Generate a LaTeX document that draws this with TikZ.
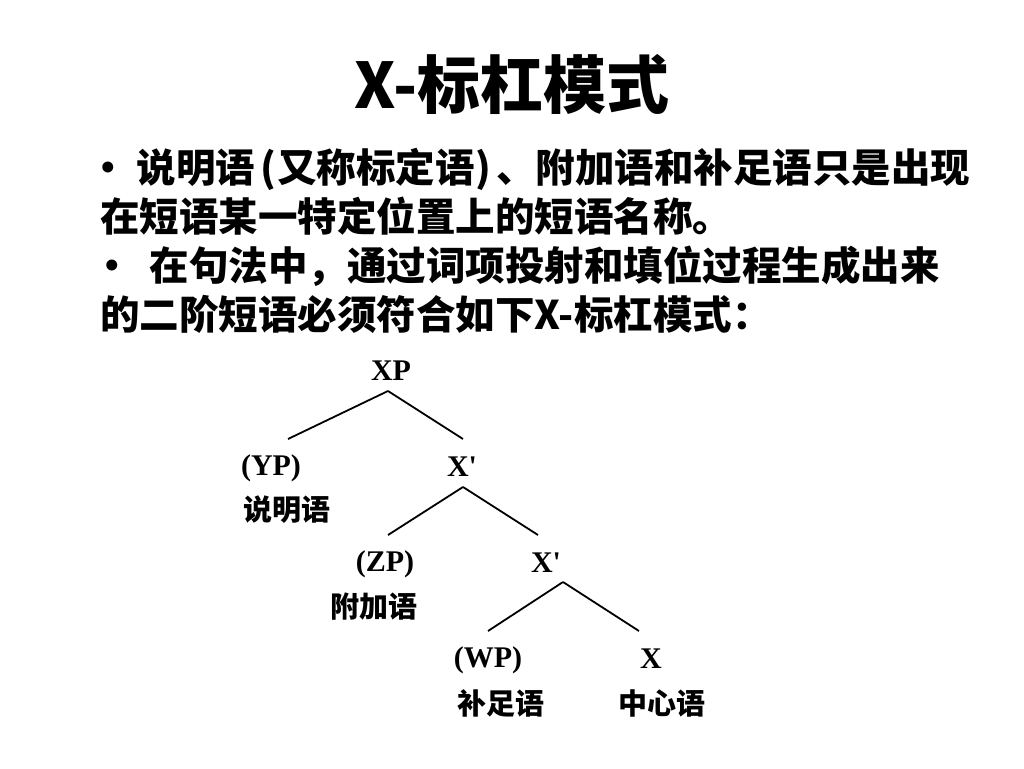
\documentclass[tikz,border=0pt]{standalone}
\usepackage{fontspec}
\newfontfamily\cjk{Noto Sans CJK SC}
\newfontfamily\tms{Liberation Serif}
\usetikzlibrary{positioning,calc}

\begin{document}
\begin{tikzpicture}[
  x=1pt, y=-1pt,
  title/.style={font=\cjk\bfseries\fontsize{63}{66}\selectfont},
  txt/.style={font=\cjk\bfseries\fontsize{39.5}{44}\selectfont, anchor=base west, inner sep=0pt},
  cat/.style={font=\tms\bfseries\fontsize{30}{30}\selectfont, inner sep=0pt},
  role/.style={font=\cjk\bfseries\fontsize{29}{30}\selectfont, inner sep=0pt},
  edge/.style={line width=1.8pt}
]
\useasboundingbox (0,0) rectangle (1024,768);

% Title
\node[title] (title) at (512,84) {X-标杠模式};

% Bullet text
\node[txt] (line1) at (88,182) {·\ 说明语\kern5pt(\kern1pt又称标定语\kern1pt)\kern5pt、附加语和补足语只是出现};
\node[txt] (line2) at (100,231) {在短语某一特定位置上的短语名称。};
\node[txt] (line3) at (92,280) {•\ \ 在句法中，通过词项投射和填位过程生成出来};
\node[txt] (line4) at (100,329) {的二阶短语必须符合如下X-标杠模式：};

% Tree categories
\node[cat] (xp) at (391,371) {XP};
\node[cat] (yp) at (271,468) {(YP)};
\node[cat] (xbar1) at (462,467) {X'};
\node[cat] (zp) at (385,564) {(ZP)};
\node[cat] (xbar2) at (546,563) {X'};
\node[cat] (wp) at (488,660) {(WP)};
\node[cat] (x) at (651,659) {X};

% Role labels
\node[role, anchor=west] (spec) at (243,510) {说明语};
\node[role, anchor=west] (adj) at (330,607) {附加语};
\node[role, anchor=west] (comp) at (457,703) {补足语};
\node[role, anchor=west] (head) at (618,703) {中心语};

% Branches
\draw[edge] ([shift={(-3,20)}]xp.center) -- ([shift={(17,-29)}]yp.center);
\draw[edge] ([shift={(-3,20)}]xp.center) -- ([shift={(1,-28)}]xbar1.center);
\draw[edge] ([shift={(1,20)}]xbar1.center) -- ([shift={(3,-29)}]zp.center);
\draw[edge] ([shift={(1,20)}]xbar1.center) -- ([shift={(-8,-28)}]xbar2.center);
\draw[edge] ([shift={(17,19)}]xbar2.center) -- ([shift={(0,-29)}]wp.center);
\draw[edge] ([shift={(17,19)}]xbar2.center) -- ([shift={(-12,-28)}]x.center);

\end{tikzpicture}
\end{document}
